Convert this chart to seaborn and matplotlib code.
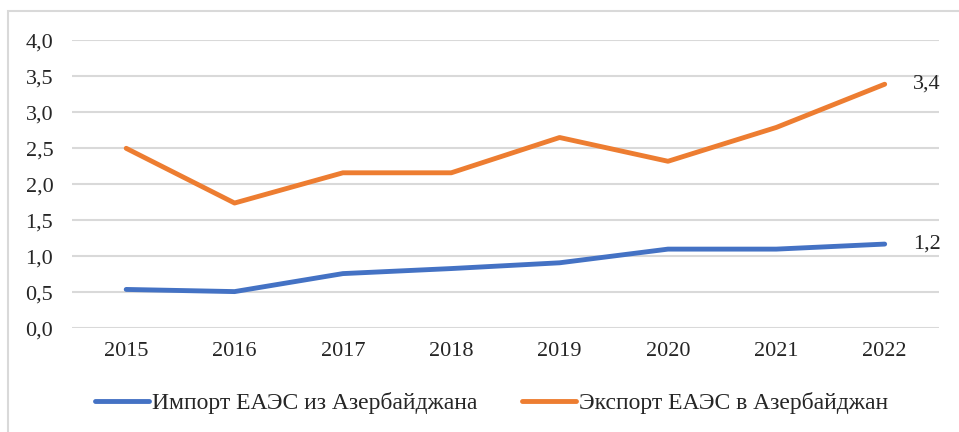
import pandas as pd
import numpy as np
import matplotlib.pyplot as plt
import seaborn as sns
from matplotlib.patches import Rectangle

sns.set_theme(style="white")
plt.rcParams['font.family'] = ['Liberation Serif', 'DejaVu Serif']

# data
years = [2015, 2016, 2017, 2018, 2019, 2020, 2021, 2022]
imp = [0.54, 0.51, 0.76, 0.83, 0.91, 1.10, 1.10, 1.17]
exp = [2.50, 1.74, 2.16, 2.16, 2.65, 2.32, 2.79, 3.39]
imp_name = 'Импорт ЕАЭС из Азербайджана'
exp_name = 'Экспорт ЕАЭС в Азербайджан'
last_labels = ['1,2', '3,4']

df = pd.DataFrame({'year': [str(y) for y in years] * 2,
                   'value': imp + exp,
                   'series': [imp_name] * len(years) + [exp_name] * len(years)})

fig = plt.figure(figsize=(9.59, 4.32), dpi=100)
ax = fig.add_axes([0.0751, 0.240, 0.9039, 0.6667])

# outer chart frame (partly cut off in the reference)
fig.patches.append(Rectangle((8 / 959, -0.1), 1.1, 1 - 11 / 432 + 0.1,
                             transform=fig.transFigure, fill=False,
                             edgecolor='#d9d9d9', linewidth=1.5))

pal = {imp_name: '#4472C4', exp_name: '#ED7D31'}
sns.lineplot(data=df, x='year', y='value', hue='series', palette=pal,
             linewidth=3.5, sort=False, ax=ax, legend=False)
for line in ax.lines:
    line.set_solid_capstyle('round')
    line.set_solid_joinstyle('round')

ax.set_xlim(-0.5, len(years) - 0.5)
ax.set_ylim(0, 4.0)
yt = np.arange(0, 4.01, 0.5)
ax.set_yticks(yt)
ax.set_yticklabels([f'{v:.1f}'.replace('.', ',') for v in yt])
ax.yaxis.grid(True, color='#d9d9d9', linewidth=1.5)
ax.xaxis.grid(False)
for s in ax.spines.values():
    s.set_visible(False)
ax.tick_params(axis='y', labelsize=16, pad=13.5, length=0)
ax.tick_params(axis='x', labelsize=16, pad=10, length=0)
ax.set_xlabel('')
ax.set_ylabel('')

# labels on the last points
for vals, lab in zip([imp, exp], last_labels):
    ax.text(len(years) - 1 + 0.26, vals[-1], lab, fontsize=16,
            va='center', ha='left')

handles = [plt.Line2D([], [], color=pal[imp_name], linewidth=3.5, solid_capstyle='round'),
           plt.Line2D([], [], color=pal[exp_name], linewidth=3.5, solid_capstyle='round')]
fig.legend(handles, [imp_name, exp_name], loc='center', bbox_to_anchor=(0.5125, 0.066),
           ncol=2, frameon=False, fontsize=17, handlelength=2.3, handletextpad=0.1,
           columnspacing=1.9)

fig.savefig('out.png', dpi=100)
